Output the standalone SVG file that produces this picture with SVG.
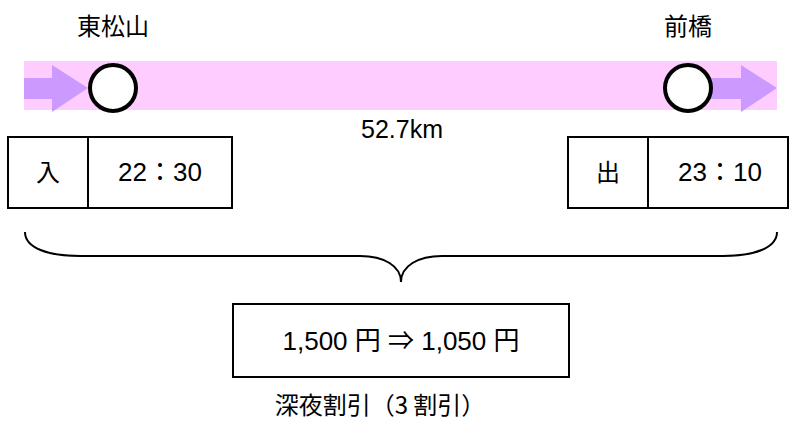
<svg xmlns="http://www.w3.org/2000/svg" width="790" height="423" viewBox="0 0 790 423">
<style>
text{font-family:"Noto Sans CJK JP","Liberation Sans",sans-serif;fill:#000;text-anchor:middle}
.t{font-size:24px}
.n{font-family:"Liberation Sans","Noto Sans CJK JP",sans-serif;font-size:26px}
.box{fill:#fff;stroke:#000;stroke-width:2}
.stn{fill:#fff;stroke:#000;stroke-width:4}
.arr{fill:#CC99FF}
</style>
<rect x="24" y="61" width="753" height="49" fill="#FFCCFF"/>
<g id="arrow-in">
<polygon class="arr" points="24,78 52,78 52,65 88,88 52,112 52,99 24,99"/>
</g>
<g id="arrow-out">
<polygon class="arr" points="708,78 741,78 741,65 777,88 741,112 741,99 708,99"/>
</g>
<g id="node-higashimatsuyama">
<circle class="stn" cx="113" cy="88" r="23"/>
<text class="t" x="113" y="35">東松山</text>
</g>
<g id="node-maebashi">
<circle class="stn" cx="688" cy="88" r="23"/>
<text class="t" x="688" y="35">前橋</text>
</g>
<g id="distance">
<text class="n" x="402" y="138" style="font-size:25px">52.7km</text>
</g>
<g id="entry">
<rect class="box" x="8" y="137" width="224" height="71"/>
<line x1="88" y1="137" x2="88" y2="208" stroke="#000" stroke-width="2"/>
<text class="t" x="48" y="181">入</text>
<text class="n" x="160" y="181">22：30</text>
</g>
<g id="exit">
<rect class="box" x="568" y="137" width="220" height="71"/>
<line x1="648" y1="137" x2="648" y2="208" stroke="#000" stroke-width="2"/>
<text class="t" x="608" y="181">出</text>
<text class="n" x="720" y="181">23：10</text>
</g>
<g id="connectors">
<path d="M25,232 C25,248 48,256 80,256 L360,256 C384,256 401,266 401,282 C401,266 418,256 442,256 L723,256 C754,256 777,248 777,232" fill="none" stroke="#000" stroke-width="2"/>
</g>
<g id="fare">
<rect class="box" x="233" y="304" width="336" height="73"/>
<text class="n" x="401" y="350">1,500 円 ⇒ 1,050 円</text>
</g>
<g id="caption">
<text class="t" x="380" y="414">深夜割引（3 割引）</text>
</g>
</svg>
